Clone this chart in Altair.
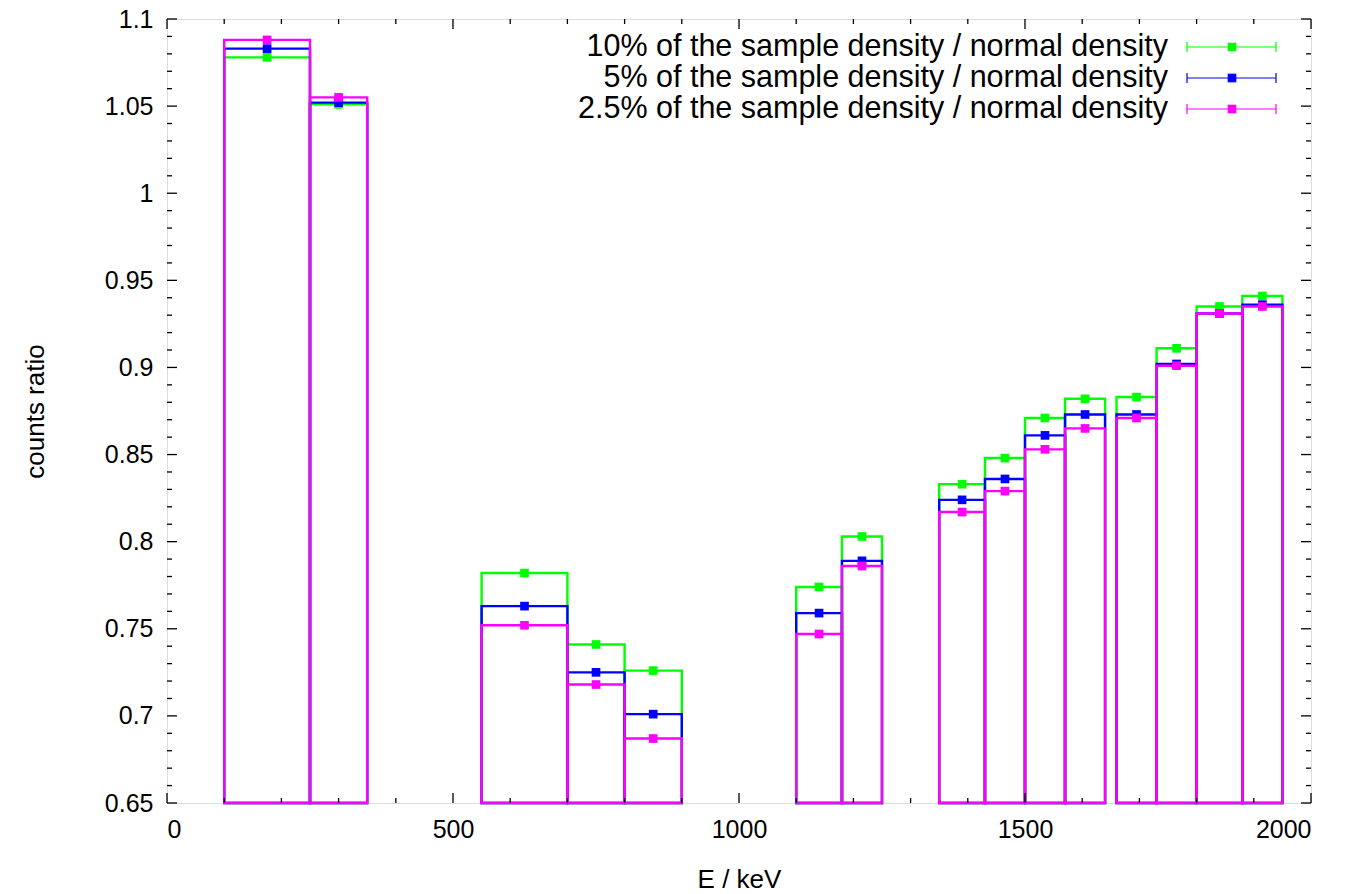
import altair as alt
import pandas as pd

# ---- data ----
x_lo = [100, 250, 550, 700, 800, 1100, 1180, 1350, 1430, 1500, 1570, 1660, 1730, 1800, 1880]
x_hi = [250, 350, 700, 800, 900, 1180, 1250, 1430, 1500, 1570, 1640, 1730, 1800, 1880, 1950]
green = [1.078, 1.051, 0.782, 0.741, 0.726, 0.774, 0.803, 0.833, 0.848, 0.871, 0.882, 0.883, 0.911, 0.935, 0.941]
blue = [1.083, 1.052, 0.763, 0.725, 0.701, 0.759, 0.789, 0.824, 0.836, 0.861, 0.873, 0.873, 0.902, 0.931, 0.936]
pink = [1.088, 1.055, 0.752, 0.718, 0.687, 0.747, 0.786, 0.817, 0.829, 0.853, 0.865, 0.871, 0.901, 0.931, 0.935]

series_names = [
    "10% of the sample density / normal density",
    "5% of the sample density / normal density",
    "2.5% of the sample density / normal density",
]
series_colors = ["#00ff00", "#0000ff", "#ff00ff"]

x_major = [0, 500, 1000, 1500, 2000]
x_minor = [100, 200, 300, 400, 600, 700, 800, 900, 1100, 1200, 1300, 1400, 1600, 1700, 1800, 1900]
y_major = [0.65, 0.7, 0.75, 0.8, 0.85, 0.9, 0.95, 1.0, 1.05, 1.1]
y_minor = [0.66, 0.67, 0.68, 0.69, 0.71, 0.72, 0.73, 0.74, 0.76, 0.77, 0.78, 0.79,
           0.81, 0.82, 0.83, 0.84, 0.86, 0.87, 0.88, 0.89, 0.91, 0.92, 0.93, 0.94,
           0.96, 0.97, 0.98, 0.99, 1.01, 1.02, 1.03, 1.04, 1.06, 1.07, 1.08, 1.09]

Y_BASE = 0.65
W, H = 1144, 784
FONT = "Liberation Sans"

xscale = alt.Scale(domain=[0, 2000], nice=False, zero=False)
yscale = alt.Scale(domain=[0.65, 1.1], nice=False, zero=False)

x_axis = alt.Axis(values=x_major, title="E / keV", ticks=False, domain=False, grid=False,
                  labelPadding=14, titlePadding=24, format="d",
                  labelFont=FONT, titleFont=FONT, labelFontSize=25, titleFontSize=26,
                  labelColor="black", titleColor="black", titleFontWeight="normal")
y_axis = alt.Axis(values=y_major, title="counts ratio", ticks=False, domain=False, grid=False,
                  labelPadding=14, titlePadding=56,
                  labelExpr="format(datum.value, '.3~f')",
                  labelFont=FONT, titleFont=FONT, labelFontSize=25, titleFontSize=26,
                  labelColor="black", titleColor="black", titleFontWeight="normal")

layers = []
for name, col, vals in zip(series_names, series_colors, [green, blue, pink]):
    df = pd.DataFrame({
        "lo": x_lo, "hi": x_hi, "v": vals,
        "base": [Y_BASE] * len(vals),
        "c": [(a + b) / 2 for a, b in zip(x_lo, x_hi)],
    })
    boxes = alt.Chart(df).mark_rect(filled=False, stroke=col, strokeWidth=2.4).encode(
        x=alt.X("lo:Q", scale=xscale, axis=x_axis),
        x2="hi:Q",
        y=alt.Y("v:Q", scale=yscale, axis=y_axis),
        y2="base:Q",
    )
    pts = alt.Chart(df).mark_square(size=75, color=col, opacity=1).encode(
        x=alt.X("c:Q", scale=xscale),
        y=alt.Y("v:Q", scale=yscale),
    )
    layers += [boxes, pts]

# inward ticks (gnuplot style) on all four sides
def xticks(vals, length):
    d = pd.DataFrame({"t": vals})
    bot = alt.Chart(d).mark_rule(color="black", strokeWidth=1.3).encode(
        x=alt.X("t:Q", scale=xscale), y=alt.value(H), y2=alt.value(H - length))
    top = alt.Chart(d).mark_rule(color="black", strokeWidth=1.3).encode(
        x=alt.X("t:Q", scale=xscale), y=alt.value(0), y2=alt.value(length))
    return [bot, top]

def yticks(vals, length):
    d = pd.DataFrame({"t": vals})
    left = alt.Chart(d).mark_rule(color="black", strokeWidth=1.3).encode(
        y=alt.Y("t:Q", scale=yscale), x=alt.value(0), x2=alt.value(length))
    right = alt.Chart(d).mark_rule(color="black", strokeWidth=1.3).encode(
        y=alt.Y("t:Q", scale=yscale), x=alt.value(W), x2=alt.value(W - length))
    return [left, right]

layers += xticks(x_major, 10) + xticks(x_minor, 5) + yticks(y_major, 10) + yticks(y_minor, 5)

# key (top right, inside the frame)
row_y = [28, 59, 90]
text_x = 1001
s_lo, s_hi, s_mid = 1020, 1109, 1065
for name, col, ry in zip(series_names, series_colors, row_y):
    d = pd.DataFrame({"label": [name]})
    layers.append(alt.Chart(d).mark_text(align="right", baseline="middle", font=FONT,
                                         fontSize=30.5, color="black").encode(
        x=alt.value(text_x), y=alt.value(ry), text="label:N"))
    layers.append(alt.Chart(d).mark_rule(color=col, strokeWidth=1.2).encode(
        x=alt.value(s_lo), x2=alt.value(s_hi), y=alt.value(ry)))
    layers.append(alt.Chart(d).mark_rule(color=col, strokeWidth=1.2).encode(
        x=alt.value(s_lo), y=alt.value(ry - 5), y2=alt.value(ry + 5)))
    layers.append(alt.Chart(d).mark_rule(color=col, strokeWidth=1.2).encode(
        x=alt.value(s_hi), y=alt.value(ry - 5), y2=alt.value(ry + 5)))
    layers.append(alt.Chart(d).mark_square(size=75, color=col, opacity=1).encode(
        x=alt.value(s_mid), y=alt.value(ry)))

chart = alt.layer(*layers).properties(
    width=W, height=H,
    autosize=alt.AutoSizeParams(type="none"),
    padding={"left": 159, "top": 11, "right": 30, "bottom": 91},
).configure_view(
    stroke="black", strokeWidth=2
).configure(background="white")

chart.save("out.html", embed_options={"renderer": "svg", "actions": False})
